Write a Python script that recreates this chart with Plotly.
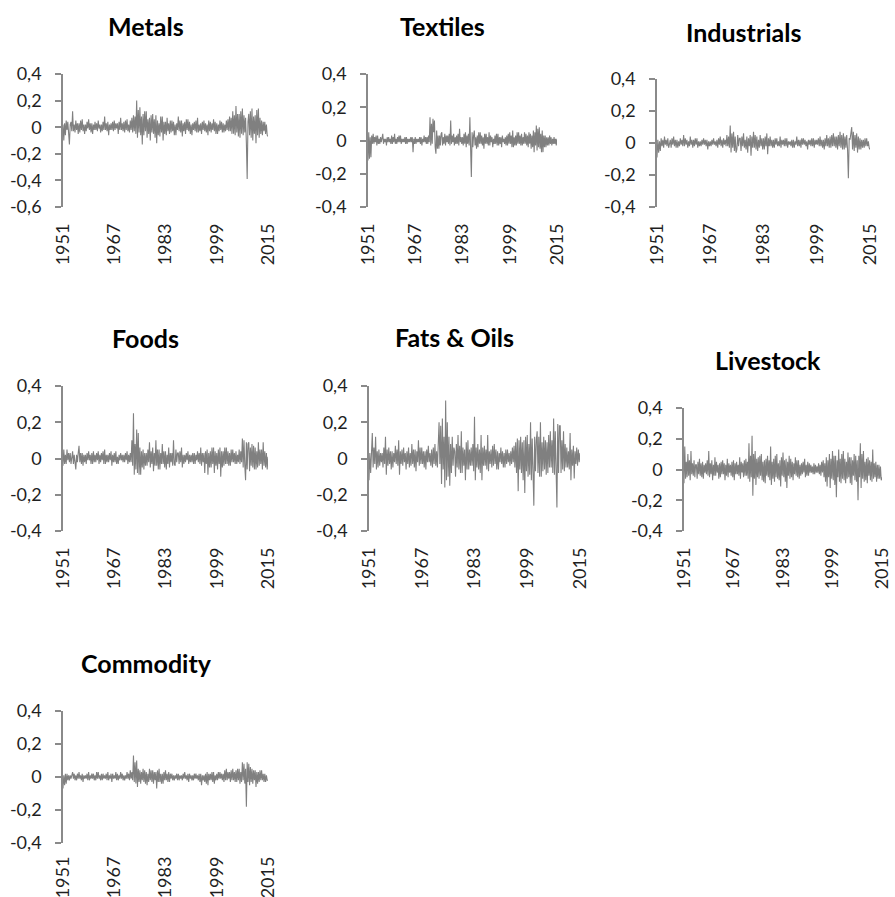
import plotly.graph_objects as go

# ---------------- data: quarterly readings, 1951.00 .. 2015.00 (one row per year) ----------------
metals = [
    0.02, -0.10, 0.03, -0.06,   # 1951
    0.05, -0.02, 0.04, -0.06,
    -0.13, 0.02, 0.04, -0.03,
    0.12, -0.03, 0.02, -0.04,
    0.05, -0.02, 0.03, -0.05,   # 1955
    0.03, -0.04, 0.05, -0.02,
    0.06, -0.03, 0.02, -0.05,
    0.02, -0.03, 0.04, -0.01,
    0.06, -0.02, 0.03, -0.04,
    0.03, -0.05, 0.02, -0.02,   # 1960
    0.04, -0.02, 0.03, -0.03,
    0.05, -0.01, 0.02, -0.04,
    0.02, -0.03, 0.04, -0.02,
    0.08, -0.02, 0.03, -0.03,
    0.04, -0.06, 0.02, -0.02,   # 1965
    0.03, -0.02, 0.04, -0.03,
    0.05, -0.02, 0.03, -0.01,
    0.03, -0.05, 0.04, -0.02,
    0.07, -0.02, 0.03, -0.03,
    0.04, -0.04, 0.05, -0.02,   # 1970
    0.06, -0.03, 0.02, -0.04,
    0.05, -0.02, 0.07, -0.04,
    0.09, -0.03, 0.08, -0.05,
    0.20, -0.08, 0.13, -0.04,
    0.15, -0.06, 0.08, -0.13,   # 1975
    0.10, -0.06, 0.12, -0.03,
    0.12, -0.08, 0.06, -0.05,
    0.07, -0.10, 0.09, -0.04,
    0.10, -0.05, 0.06, -0.08,
    0.09, -0.12, 0.05, -0.06,   # 1980
    0.03, -0.07, 0.08, -0.04,
    0.08, -0.10, 0.04, -0.05,
    0.04, -0.06, 0.07, -0.03,
    0.03, -0.05, 0.05, -0.04,
    0.05, -0.03, 0.04, -0.06,   # 1985
    0.02, -0.06, 0.03, -0.02,
    0.08, -0.03, 0.05, -0.04,
    0.05, -0.07, 0.03, -0.03,
    0.04, -0.05, 0.06, -0.02,
    0.06, -0.03, 0.04, -0.05,   # 1990
    0.02, -0.06, 0.03, -0.02,
    0.04, -0.03, 0.05, -0.04,
    0.07, -0.04, 0.02, -0.03,
    0.03, -0.05, 0.04, -0.02,
    0.05, -0.03, 0.03, -0.04,   # 1995
    0.02, -0.06, 0.05, -0.03,
    0.04, -0.04, 0.03, -0.02,
    0.06, -0.03, 0.04, -0.05,
    0.03, -0.05, 0.02, -0.03,
    0.05, -0.02, 0.04, -0.04,   # 2000
    0.03, -0.04, 0.02, -0.03,
    0.05, -0.02, 0.06, -0.03,
    0.08, -0.03, 0.07, -0.05,
    0.12, -0.05, 0.09, -0.06,
    0.16, -0.04, 0.10, -0.07,   # 2005
    0.10, -0.08, 0.12, -0.05,
    0.14, -0.06, 0.09, -0.04,
    0.07, -0.12, -0.39, 0.04,
    0.10, -0.06, 0.12, -0.08,
    0.14, -0.10, 0.08, -0.05,   # 2010
    0.09, -0.12, 0.13, -0.06,
    0.14, -0.08, 0.07, -0.05,
    0.05, -0.06, 0.04, -0.03,
    0.04, -0.05, 0.02, -0.06,
    -0.07,                      # 2015
]

textiles = [
    -0.12, 0.05, -0.11, 0.02,   # 1951
    -0.10, 0.03, -0.02, 0.04,
    -0.02, 0.02, -0.01, 0.03,
    -0.03, 0.03, -0.02, 0.01,
    -0.02, 0.02, -0.01, 0.02,   # 1955
    0.04, -0.02, 0.01, -0.01,
    0.01, -0.03, 0.02, -0.01,
    0.02, -0.01, 0.01, -0.02,
    0.03, -0.02, 0.02, -0.01,
    0.04, -0.02, 0.01, -0.02,   # 1960
    0.02, -0.01, 0.03, -0.01,
    0.03, -0.02, 0.01, -0.01,
    0.01, -0.01, 0.02, -0.02,
    0.02, -0.02, 0.01, -0.01,
    0.01, -0.01, 0.02, -0.01,   # 1965
    0.02, -0.07, 0.01, -0.02,
    0.02, -0.02, 0.01, -0.01,
    0.01, -0.01, 0.02, -0.02,
    0.02, -0.03, 0.01, -0.01,
    0.03, -0.01, 0.02, -0.02,   # 1970
    0.02, -0.02, 0.03, -0.01,
    0.14, -0.03, 0.10, -0.02,
    0.13, 0.05, 0.12, -0.04,
    -0.08, 0.06, -0.05, 0.03,
    -0.05, 0.03, -0.03, 0.04,   # 1975
    0.05, -0.03, 0.02, -0.02,
    0.04, -0.03, 0.03, -0.01,
    0.03, -0.02, 0.04, -0.03,
    0.12, -0.02, 0.03, -0.01,
    0.04, -0.03, 0.02, -0.02,   # 1980
    0.03, -0.02, 0.04, -0.03,
    0.07, -0.01, 0.02, -0.02,
    0.02, -0.03, 0.04, -0.02,
    0.05, -0.04, 0.03, -0.02,
    0.04, -0.03, 0.14, -0.05,   # 1985
    -0.22, 0.05, -0.04, 0.03,
    0.06, -0.03, 0.02, -0.05,
    0.03, -0.04, 0.05, -0.02,
    0.05, -0.02, 0.03, -0.03,
    0.02, -0.05, 0.04, -0.02,   # 1990
    0.04, -0.02, 0.02, -0.03,
    0.05, -0.03, 0.03, -0.01,
    0.02, -0.04, 0.01, -0.02,
    0.03, -0.02, 0.04, -0.03,
    0.04, -0.03, 0.02, -0.02,   # 1995
    0.02, -0.04, 0.03, -0.01,
    0.01, -0.02, 0.02, -0.03,
    0.03, -0.03, 0.04, -0.02,
    0.05, -0.02, 0.03, -0.04,
    0.06, -0.04, 0.02, -0.03,   # 2000
    0.03, -0.03, 0.05, -0.02,
    0.05, -0.02, 0.03, -0.03,
    0.04, -0.03, 0.02, -0.02,
    0.05, -0.02, 0.04, -0.03,
    0.03, -0.04, 0.05, -0.02,   # 2005
    0.04, -0.05, 0.03, -0.04,
    0.06, -0.07, 0.05, -0.03,
    0.09, -0.06, 0.07, -0.04,
    0.08, -0.05, 0.04, -0.07,
    0.06, -0.07, 0.03, -0.04,   # 2010
    0.03, -0.04, 0.02, -0.03,
    0.02, -0.03, 0.03, -0.02,
    0.02, -0.03, 0.01, -0.02,
    0.02, -0.02, 0.01, -0.03,
    0.01,                       # 2015
]

industrials = [
    -0.09, 0.02, -0.06, 0.01,   # 1951
    -0.05, 0.03, -0.02, 0.02,
    -0.03, 0.04, -0.01, 0.02,
    -0.02, 0.03, -0.03, 0.01,
    0.02, -0.03, 0.03, -0.01,   # 1955
    0.04, -0.02, 0.02, -0.03,
    0.02, -0.03, 0.01, -0.02,
    0.03, -0.01, 0.02, -0.02,
    0.05, -0.02, 0.03, -0.01,
    0.02, -0.03, 0.01, -0.02,   # 1960
    0.04, -0.01, 0.02, -0.03,
    0.02, -0.02, 0.03, -0.01,
    0.03, -0.03, 0.01, -0.02,
    0.01, -0.02, 0.02, -0.01,
    0.03, -0.01, 0.02, -0.02,   # 1965
    0.02, -0.04, 0.01, -0.02,
    0.01, -0.02, 0.02, -0.01,
    0.03, -0.01, 0.01, -0.02,
    0.02, -0.03, 0.03, -0.01,
    0.04, -0.02, 0.02, -0.03,   # 1970
    0.03, -0.01, 0.02, -0.02,
    0.05, -0.02, 0.04, -0.03,
    0.11, -0.06, 0.06, -0.03,
    0.07, -0.05, 0.04, -0.06,
    -0.04, 0.05, -0.02, 0.03,   # 1975
    0.03, -0.05, 0.04, -0.02,
    0.06, -0.03, 0.02, -0.04,
    0.04, -0.06, 0.03, -0.02,
    0.05, -0.08, 0.04, -0.03,
    0.07, -0.03, 0.05, -0.04,   # 1980
    0.04, -0.05, 0.02, -0.03,
    0.05, -0.02, 0.03, -0.04,
    0.03, -0.04, 0.04, -0.02,
    0.06, -0.07, 0.03, -0.02,
    0.04, -0.02, 0.02, -0.03,   # 1985
    0.02, -0.03, 0.03, -0.01,
    0.03, -0.02, 0.01, -0.02,
    0.04, -0.03, 0.02, -0.01,
    0.02, -0.02, 0.03, -0.02,
    0.03, -0.03, 0.01, -0.01,   # 1990
    0.01, -0.02, 0.02, -0.03,
    0.02, -0.03, 0.01, -0.01,
    0.04, -0.02, 0.02, -0.02,
    0.02, -0.03, 0.03, -0.01,
    0.03, -0.01, 0.02, -0.02,   # 1995
    0.01, -0.04, 0.02, -0.01,
    0.02, -0.02, 0.03, -0.02,
    0.03, -0.03, 0.02, -0.01,
    0.02, -0.01, 0.03, -0.02,
    0.04, -0.02, 0.02, -0.03,   # 2000
    0.02, -0.04, 0.03, -0.02,
    0.05, -0.02, 0.03, -0.03,
    0.04, -0.03, 0.05, -0.02,
    0.06, -0.02, 0.04, -0.03,
    0.04, -0.04, 0.05, -0.02,   # 2005
    0.07, -0.03, 0.05, -0.04,
    0.06, -0.04, 0.04, -0.03,
    0.05, -0.04, -0.22, 0.03,
    0.02, 0.06, 0.10, -0.04,
    0.07, -0.05, 0.05, -0.03,   # 2010
    0.06, -0.06, 0.04, -0.04,
    0.03, -0.04, 0.02, -0.03,
    0.02, -0.03, 0.03, -0.02,
    0.03, -0.02, 0.01, -0.03,
    -0.04,                      # 2015
]

foods = [
    -0.04, 0.05, -0.03, 0.02,   # 1951
    -0.03, 0.05, -0.01, 0.03,
    -0.02, 0.03, -0.03, 0.02,
    0.04, -0.03, 0.02, -0.02,
    -0.06, 0.02, -0.02, 0.03,   # 1955
    0.07, -0.02, 0.03, -0.03,
    0.03, -0.04, 0.02, -0.02,
    0.02, -0.03, 0.03, -0.01,
    0.04, -0.01, 0.02, -0.03,
    0.03, -0.03, 0.04, -0.02,   # 1960
    0.02, -0.02, 0.03, -0.01,
    0.04, -0.03, 0.02, -0.02,
    0.03, -0.01, 0.04, -0.03,
    0.05, -0.03, 0.02, -0.02,
    0.02, -0.02, 0.03, -0.01,   # 1965
    0.04, -0.04, 0.02, -0.02,
    0.03, -0.02, 0.04, -0.03,
    0.01, -0.03, 0.02, -0.01,
    0.03, -0.01, 0.02, -0.02,
    0.02, -0.02, 0.03, -0.01,   # 1970
    0.04, -0.03, 0.02, -0.02,
    0.03, -0.02, 0.10, -0.04,
    0.25, -0.09, 0.08, -0.06,
    0.16, -0.08, 0.14, -0.09,
    0.06, -0.09, 0.04, -0.05,   # 1975
    0.05, -0.06, 0.03, -0.04,
    0.03, -0.04, 0.05, -0.02,
    0.09, -0.05, 0.04, -0.03,
    0.06, -0.07, 0.03, -0.04,
    0.10, -0.04, 0.05, -0.06,   # 1980
    0.05, -0.06, 0.03, -0.03,
    0.08, -0.03, 0.04, -0.05,
    0.04, -0.06, 0.02, -0.03,
    0.06, -0.05, 0.03, -0.02,
    0.03, -0.04, 0.10, -0.03,   # 1985
    -0.04, 0.05, -0.02, 0.03,
    0.03, -0.03, 0.04, -0.02,
    0.06, -0.05, 0.02, -0.03,
    0.02, -0.02, 0.03, -0.01,
    0.04, -0.03, 0.02, -0.02,   # 1990
    0.02, -0.02, 0.03, -0.03,
    0.03, -0.03, 0.02, -0.01,
    0.04, -0.02, 0.03, -0.03,
    0.06, -0.04, 0.03, -0.02,
    0.03, -0.08, 0.04, -0.03,   # 1995
    0.05, -0.09, 0.03, -0.05,
    0.04, -0.05, 0.06, -0.03,
    0.06, -0.08, 0.04, -0.04,
    0.03, -0.06, 0.05, -0.03,
    0.06, -0.10, 0.04, -0.05,   # 2000
    0.04, -0.04, 0.06, -0.03,
    0.06, -0.03, 0.04, -0.04,
    0.03, -0.04, 0.05, -0.02,
    0.05, -0.02, 0.03, -0.03,
    0.04, -0.03, 0.02, -0.02,   # 2005
    0.05, -0.03, 0.04, -0.02,
    0.11, -0.05, 0.10, -0.04,
    -0.12, 0.09, -0.06, 0.08,
    0.09, -0.07, 0.06, -0.04,
    0.08, -0.05, 0.07, -0.06,   # 2010
    0.06, -0.06, 0.04, -0.05,
    0.09, -0.04, 0.05, -0.03,
    0.05, -0.06, 0.09, -0.04,
    0.04, -0.05, 0.03, -0.06,
    0.01,                       # 2015
]

fats_oils = [
    -0.12, 0.03, -0.08, 0.02,   # 1951
    0.14, -0.05, 0.06, -0.03,
    0.12, -0.06, 0.04, -0.05,
    0.05, -0.04, 0.03, -0.02,
    0.03, -0.05, 0.06, -0.03,   # 1955
    0.12, -0.09, 0.05, -0.04,
    0.06, -0.03, 0.04, -0.06,
    0.04, -0.05, 0.03, -0.02,
    0.07, -0.03, 0.05, -0.04,
    0.10, -0.09, 0.04, -0.03,   # 1960
    0.05, -0.04, 0.06, -0.02,
    0.03, -0.06, 0.04, -0.03,
    0.06, -0.05, 0.03, -0.04,
    0.08, -0.03, 0.05, -0.05,
    0.05, -0.07, 0.04, -0.02,   # 1965
    0.10, -0.04, 0.06, -0.03,
    0.06, -0.03, 0.04, -0.05,
    0.04, -0.06, 0.05, -0.02,
    0.07, -0.02, 0.03, -0.04,
    0.05, -0.05, 0.06, -0.03,   # 1970
    0.08, -0.04, 0.04, -0.05,
    0.06, 0.20, -0.03, 0.18,
    -0.14, 0.22, -0.06, 0.12,
    -0.16, 0.32, -0.12, 0.20,
    -0.10, 0.12, -0.15, 0.08,   # 1975
    -0.08, 0.12, -0.04, 0.06,
    0.04, -0.10, 0.08, -0.05,
    0.13, -0.06, 0.07, -0.08,
    0.15, -0.08, 0.06, -0.04,
    0.05, -0.12, 0.09, -0.06,   # 1980
    0.10, -0.06, 0.05, -0.04,
    0.06, -0.04, 0.08, -0.07,
    0.23, -0.12, 0.06, -0.05,
    0.08, -0.06, 0.05, -0.08,
    0.13, -0.12, 0.06, -0.04,   # 1985
    0.07, -0.04, 0.05, -0.06,
    0.13, -0.07, 0.04, -0.03,
    0.05, -0.05, 0.07, -0.04,
    0.08, -0.03, 0.05, -0.06,
    0.04, -0.06, 0.03, -0.02,   # 1990
    0.06, -0.03, 0.04, -0.05,
    0.03, -0.05, 0.05, -0.03,
    0.05, -0.02, 0.03, -0.04,
    0.04, -0.03, 0.06, -0.02,
    0.07, -0.05, 0.09, -0.08,   # 1995
    0.11, -0.18, 0.10, -0.06,
    0.12, -0.08, 0.09, -0.12,
    0.10, -0.19, 0.12, -0.07,
    0.13, -0.10, 0.08, -0.09,
    0.20, -0.12, 0.11, -0.08,   # 2000
    -0.26, 0.12, -0.07, 0.10,
    0.15, -0.08, 0.12, -0.10,
    0.20, -0.10, 0.09, -0.07,
    0.12, -0.06, 0.10, -0.09,
    0.09, -0.08, 0.13, -0.05,   # 2005
    0.15, -0.05, 0.10, -0.08,
    0.22, -0.09, 0.15, -0.06,
    -0.27, 0.19, -0.08, 0.18,
    0.18, -0.08, 0.10, -0.06,
    0.15, -0.07, 0.08, -0.05,   # 2010
    0.06, -0.05, 0.04, -0.06,
    0.14, -0.12, 0.05, -0.04,
    0.07, -0.11, 0.04, -0.03,
    0.06, -0.04, 0.05, -0.02,
    0.03,                       # 2015
]

livestock = [
    -0.09, 0.15, -0.06, 0.05,   # 1951
    -0.05, 0.10, -0.04, 0.06,
    -0.07, 0.12, -0.03, 0.04,
    -0.04, 0.06, -0.05, 0.03,
    0.03, -0.06, 0.05, -0.03,   # 1955
    0.07, -0.04, 0.04, -0.05,
    0.05, -0.06, 0.03, -0.02,
    0.04, -0.03, 0.06, -0.04,
    0.12, -0.05, 0.04, -0.03,
    0.06, -0.07, 0.03, -0.04,   # 1960
    0.08, -0.04, 0.05, -0.02,
    0.03, -0.06, 0.04, -0.05,
    0.05, -0.03, 0.06, -0.03,
    0.04, -0.07, 0.03, -0.04,
    0.07, -0.05, 0.04, -0.02,   # 1965
    0.03, -0.04, 0.05, -0.05,
    0.06, -0.07, 0.04, -0.03,
    0.05, -0.03, 0.03, -0.04,
    0.08, -0.06, 0.05, -0.02,
    0.04, -0.05, 0.06, -0.04,   # 1970
    0.07, -0.04, 0.05, -0.06,
    0.17, -0.08, 0.09, -0.05,
    0.22, -0.17, 0.10, -0.06,
    0.12, -0.10, 0.07, -0.05,
    0.08, -0.06, 0.09, -0.04,   # 1975
    0.10, -0.07, 0.05, -0.08,
    0.06, -0.09, 0.07, -0.04,
    0.09, -0.05, 0.06, -0.07,
    0.15, -0.10, 0.05, -0.06,
    0.07, -0.08, 0.09, -0.05,   # 1980
    0.10, -0.06, 0.04, -0.07,
    0.06, -0.11, 0.08, -0.04,
    0.11, -0.05, 0.06, -0.08,
    0.07, -0.12, 0.05, -0.04,
    0.09, -0.06, 0.07, -0.05,   # 1985
    0.05, -0.07, 0.04, -0.03,
    0.08, -0.04, 0.06, -0.05,
    0.06, -0.06, 0.03, -0.04,
    0.04, -0.03, 0.05, -0.02,
    0.07, -0.05, 0.03, -0.04,   # 1990
    0.05, -0.04, 0.04, -0.02,
    0.03, -0.02, 0.02, -0.03,
    0.04, -0.03, 0.03, -0.02,
    0.02, -0.02, 0.04, -0.03,
    0.03, -0.04, 0.05, -0.02,   # 1995
    0.06, -0.05, 0.04, -0.08,
    0.08, -0.11, 0.06, -0.05,
    0.10, -0.12, 0.07, -0.06,
    0.12, -0.07, 0.09, -0.10,
    0.09, -0.18, 0.06, -0.05,   # 2000
    0.13, -0.08, 0.07, -0.09,
    0.10, -0.06, 0.12, -0.07,
    0.07, -0.09, 0.05, -0.06,
    0.11, -0.05, 0.08, -0.09,
    0.08, -0.10, 0.06, -0.04,   # 2005
    0.10, -0.07, 0.09, -0.08,
    0.06, -0.20, 0.09, -0.05,
    0.17, -0.12, 0.10, -0.06,
    0.12, -0.08, 0.05, -0.07,
    0.07, -0.09, 0.08, -0.04,   # 2010
    0.06, -0.07, 0.05, -0.08,
    0.13, -0.06, 0.04, -0.05,
    0.05, -0.08, 0.03, -0.06,
    0.03, -0.06, 0.02, -0.07,
    -0.05,                      # 2015
]

commodity = [
    -0.07, 0.01, -0.05, 0.02,   # 1951
    -0.04, 0.02, -0.02, 0.01,
    -0.02, 0.01, -0.01, 0.02,
    0.03, -0.01, 0.02, -0.02,
    0.01, -0.02, 0.02, -0.01,   # 1955
    0.03, -0.01, 0.01, -0.02,
    0.02, -0.03, 0.01, -0.01,
    0.01, -0.01, 0.02, -0.02,
    0.03, -0.02, 0.01, -0.01,
    0.02, -0.01, 0.02, -0.02,   # 1960
    0.01, -0.02, 0.03, -0.01,
    0.03, -0.01, 0.01, -0.02,
    0.02, -0.02, 0.02, -0.01,
    0.01, -0.01, 0.02, -0.02,
    0.03, -0.02, 0.01, -0.01,   # 1965
    0.02, -0.03, 0.02, -0.01,
    0.01, -0.01, 0.03, -0.02,
    0.02, -0.02, 0.01, -0.01,
    0.03, -0.01, 0.02, -0.02,
    0.01, -0.02, 0.01, -0.01,   # 1970
    0.03, -0.01, 0.02, -0.02,
    0.04, -0.01, 0.03, -0.02,
    0.13, -0.03, 0.09, -0.04,
    0.10, -0.06, 0.05, -0.03,
    0.04, -0.04, 0.03, -0.02,   # 1975
    0.05, -0.03, 0.04, -0.04,
    0.03, -0.05, 0.02, -0.03,
    0.05, -0.02, 0.04, -0.03,
    0.04, -0.04, 0.03, -0.02,
    0.03, -0.07, 0.04, -0.03,   # 1980
    0.05, -0.03, 0.02, -0.04,
    0.02, -0.04, 0.03, -0.02,
    0.04, -0.02, 0.02, -0.03,
    0.03, -0.03, 0.02, -0.01,
    0.02, -0.02, 0.01, -0.02,   # 1985
    0.01, -0.01, 0.02, -0.02,
    0.02, -0.02, 0.01, -0.01,
    0.01, -0.02, 0.02, -0.01,
    0.03, -0.01, 0.01, -0.02,
    0.02, -0.03, 0.02, -0.01,   # 1990
    0.01, -0.02, 0.01, -0.02,
    0.02, -0.01, 0.02, -0.01,
    0.01, -0.02, 0.02, -0.03,
    0.02, -0.05, 0.01, -0.02,
    0.01, -0.03, 0.02, -0.04,   # 1995
    0.03, -0.05, 0.02, -0.02,
    0.02, -0.02, 0.03, -0.03,
    0.03, -0.04, 0.01, -0.02,
    0.02, -0.02, 0.03, -0.01,
    0.03, -0.01, 0.02, -0.02,   # 2000
    0.02, -0.03, 0.04, -0.02,
    0.05, -0.02, 0.03, -0.01,
    0.03, -0.03, 0.04, -0.02,
    0.05, -0.02, 0.03, -0.03,
    0.04, -0.03, 0.05, -0.02,   # 2005
    0.05, -0.04, 0.03, -0.03,
    0.09, -0.02, 0.08, -0.04,
    0.05, -0.18, 0.09, -0.03,
    0.08, -0.05, 0.06, -0.03,
    0.05, -0.04, 0.04, -0.02,   # 2010
    0.04, -0.06, 0.03, -0.04,
    0.03, -0.03, 0.04, -0.02,
    0.04, -0.02, 0.02, -0.03,
    0.02, -0.03, 0.01, -0.02,
    -0.02,                      # 2015
]

titles = ["Metals", "Textiles", "Industrials", "Foods", "Fats & Oils", "Livestock", "Commodity"]
x_tick_years = [1951, 1967, 1983, 1999, 2015]
x_tick_labels = ["1951", "1967", "1983", "1999", "2015"]
y_ticks_wide = [-0.6, -0.4, -0.2, 0, 0.2, 0.4]
y_labels_wide = ["-0,6", "-0,4", "-0,2", "0", "0,2", "0,4"]
y_ticks = [-0.4, -0.2, 0, 0.2, 0.4]
y_labels = ["-0,4", "-0,2", "0", "0,2", "0,4"]

series = [metals, textiles, industrials, foods, fats_oils, livestock, commodity]

# ---------------- layout geometry (page pixels) ----------------
W, H = 895, 897
# plot areas: (x_left, x_right, y_top, y_bottom)
boxes = [
    (63, 268, 74, 207), (368, 557, 74, 207), (657, 870, 79, 207),
    (63, 268, 386, 531), (369, 580, 386, 531), (684, 882, 408, 531),
    (63, 268, 711, 843),
]
label_gap = [12, 12, 12, 12, 12, 12, 9]
title_pos = [(146, 26), (442, 26), (743, 32), (145, 338), (454, 337), (768, 360), (146, 663)]

FONT = "Lato"
TEXT = "#1f1f1f"
AXIS = "#8a8a8a"
LINE = "#808080"

fig = go.Figure()
layout = dict(
    width=W, height=H, margin=dict(l=0, r=0, t=0, b=0, autoexpand=False),
    paper_bgcolor="white", plot_bgcolor="white", showlegend=False,
    font=dict(family=FONT, color=TEXT), annotations=[],
)

for i, (name, s) in enumerate(zip(titles, series)):
    k = i + 1
    xs = [1951 + 0.25 * j for j in range(len(s))]
    fig.add_trace(go.Scatter(
        x=xs, y=s, mode="lines", line=dict(color=LINE, width=1.1),
        xaxis="x" if k == 1 else f"x{k}", yaxis="y" if k == 1 else f"y{k}",
        hoverinfo="skip",
    ))
    x0, x1, yt, yb = boxes[i]
    wide = (i == 0)
    xa = dict(
        domain=[x0 / W, x1 / W], range=[1951, 2015], automargin=False,
        anchor="y" if k == 1 else f"y{k}",
        showline=False, showgrid=False, zeroline=False,
        tickmode="array", tickvals=x_tick_years, ticktext=x_tick_labels,
        tickangle=-90, ticks="", ticklabelstandoff=label_gap[i], ticklabeloverflow="allow",
        tickfont=dict(family=FONT, size=18, color=TEXT), fixedrange=True,
    )
    ya = dict(
        domain=[1 - yb / H, 1 - yt / H], automargin=False,
        range=[-0.6, 0.4] if wide else [-0.4, 0.4],
        anchor="x" if k == 1 else f"x{k}",
        showline=True, linecolor=AXIS, linewidth=1.6,
        ticks="outside", ticklen=6, tickwidth=1.6, tickcolor=AXIS,
        showgrid=False, zeroline=False,
        tickmode="array", tickvals=y_ticks_wide if wide else y_ticks,
        ticktext=y_labels_wide if wide else y_labels,
        ticklabelstandoff=10,
        tickfont=dict(family=FONT, size=18, color=TEXT), fixedrange=True,
    )
    layout["xaxis" if k == 1 else f"xaxis{k}"] = xa
    layout["yaxis" if k == 1 else f"yaxis{k}"] = ya
    tx, ty = title_pos[i]
    layout["annotations"].append(dict(
        text=f"<b>{name}</b>", x=tx / W, y=1 - ty / H,
        xref="paper", yref="paper",
        xanchor="center", yanchor="middle", showarrow=False,
        font=dict(family=FONT, size=25, color="#000000"),
    ))

fig.update_layout(**layout)
fig.write_html(
    "out.html",
    config={"displayModeBar": False},
    post_script="document.body.style.margin='0';document.body.style.overflow='hidden';",
)
